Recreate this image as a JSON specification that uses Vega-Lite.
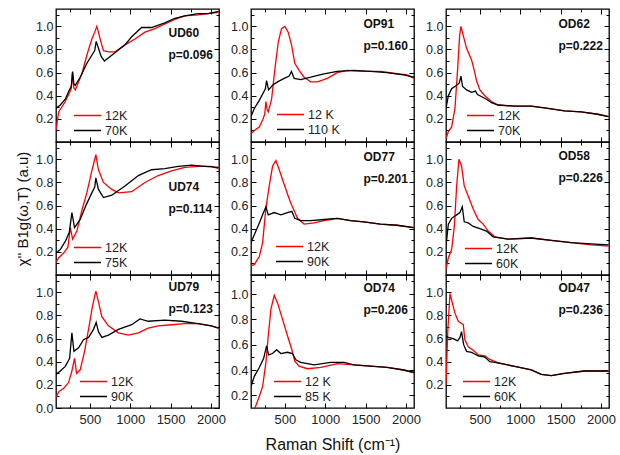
{
"$schema":"https://vega.github.io/schema/vega-lite/v6.json",
"padding":{"left":14,"top":7,"right":5,"bottom":5},
"datasets":{
"ud60":[{"s":"12K","x":80,"y":0.10},{"s":"12K","x":113,"y":0.26},{"s":"12K","x":195,"y":0.35},{"s":"12K","x":250,"y":0.43},{"s":"12K","x":268,"y":0.46},{"s":"12K","x":283,"y":0.60},{"s":"12K","x":300,"y":0.47},{"s":"12K","x":319,"y":0.45},{"s":"12K","x":360,"y":0.52},{"s":"12K","x":401,"y":0.59},{"s":"12K","x":462,"y":0.75},{"s":"12K","x":524,"y":0.89},{"s":"12K","x":560,"y":0.95},{"s":"12K","x":586,"y":1.00},{"s":"12K","x":606,"y":0.95},{"s":"12K","x":627,"y":0.89},{"s":"12K","x":668,"y":0.79},{"s":"12K","x":730,"y":0.78},{"s":"12K","x":812,"y":0.78},{"s":"12K","x":935,"y":0.84},{"s":"12K","x":1059,"y":0.89},{"s":"12K","x":1182,"y":0.95},{"s":"12K","x":1306,"y":0.98},{"s":"12K","x":1429,"y":1.02},{"s":"12K","x":1552,"y":1.06},{"s":"12K","x":1676,"y":1.09},{"s":"12K","x":1840,"y":1.10},{"s":"12K","x":1964,"y":1.11},{"s":"12K","x":2095,"y":1.12},
{"s":"70K","x":80,"y":0.29},{"s":"70K","x":133,"y":0.32},{"s":"70K","x":195,"y":0.37},{"s":"70K","x":245,"y":0.45},{"s":"70K","x":270,"y":0.48},{"s":"70K","x":286,"y":0.61},{"s":"70K","x":302,"y":0.50},{"s":"70K","x":319,"y":0.49},{"s":"70K","x":380,"y":0.56},{"s":"70K","x":462,"y":0.68},{"s":"70K","x":524,"y":0.75},{"s":"70K","x":560,"y":0.79},{"s":"70K","x":578,"y":0.87},{"s":"70K","x":606,"y":0.81},{"s":"70K","x":640,"y":0.74},{"s":"70K","x":680,"y":0.70},{"s":"70K","x":771,"y":0.75},{"s":"70K","x":935,"y":0.84},{"s":"70K","x":1018,"y":0.91},{"s":"70K","x":1141,"y":0.99},{"s":"70K","x":1264,"y":0.99},{"s":"70K","x":1429,"y":1.03},{"s":"70K","x":1552,"y":1.07},{"s":"70K","x":1676,"y":1.09},{"s":"70K","x":1840,"y":1.11},{"s":"70K","x":1964,"y":1.11},{"s":"70K","x":2095,"y":1.13}],
"op91":[{"s":"12 K","x":80,"y":0.07},{"s":"12 K","x":121,"y":0.10},{"s":"12 K","x":183,"y":0.13},{"s":"12 K","x":224,"y":0.19},{"s":"12 K","x":250,"y":0.24},{"s":"12 K","x":265,"y":0.35},{"s":"12 K","x":280,"y":0.28},{"s":"12 K","x":294,"y":0.26},{"s":"12 K","x":335,"y":0.37},{"s":"12 K","x":376,"y":0.63},{"s":"12 K","x":417,"y":0.86},{"s":"12 K","x":458,"y":0.98},{"s":"12 K","x":500,"y":1.00},{"s":"12 K","x":541,"y":0.95},{"s":"12 K","x":582,"y":0.84},{"s":"12 K","x":623,"y":0.68},{"s":"12 K","x":676,"y":0.62},{"s":"12 K","x":738,"y":0.56},{"s":"12 K","x":820,"y":0.52},{"s":"12 K","x":903,"y":0.52},{"s":"12 K","x":1026,"y":0.55},{"s":"12 K","x":1149,"y":0.60},{"s":"12 K","x":1273,"y":0.62},{"s":"12 K","x":1478,"y":0.61},{"s":"12 K","x":1684,"y":0.61},{"s":"12 K","x":1890,"y":0.59},{"s":"12 K","x":2013,"y":0.58},{"s":"12 K","x":2100,"y":0.55},
{"s":"110 K","x":80,"y":0.22},{"s":"110 K","x":121,"y":0.29},{"s":"110 K","x":183,"y":0.36},{"s":"110 K","x":236,"y":0.43},{"s":"110 K","x":258,"y":0.46},{"s":"110 K","x":273,"y":0.53},{"s":"110 K","x":298,"y":0.45},{"s":"110 K","x":347,"y":0.49},{"s":"110 K","x":409,"y":0.52},{"s":"110 K","x":491,"y":0.55},{"s":"110 K","x":553,"y":0.57},{"s":"110 K","x":582,"y":0.61},{"s":"110 K","x":615,"y":0.55},{"s":"110 K","x":697,"y":0.54},{"s":"110 K","x":820,"y":0.56},{"s":"110 K","x":985,"y":0.59},{"s":"110 K","x":1149,"y":0.61},{"s":"110 K","x":1355,"y":0.62},{"s":"110 K","x":1561,"y":0.61},{"s":"110 K","x":1766,"y":0.60},{"s":"110 K","x":1972,"y":0.58},{"s":"110 K","x":2100,"y":0.56}],
"od62":[{"s":"12K","x":80,"y":0.03},{"s":"12K","x":109,"y":0.09},{"s":"12K","x":150,"y":0.13},{"s":"12K","x":191,"y":0.29},{"s":"12K","x":224,"y":0.63},{"s":"12K","x":249,"y":0.92},{"s":"12K","x":265,"y":1.00},{"s":"12K","x":294,"y":0.92},{"s":"12K","x":335,"y":0.81},{"s":"12K","x":397,"y":0.71},{"s":"12K","x":430,"y":0.62},{"s":"12K","x":458,"y":0.53},{"s":"12K","x":500,"y":0.45},{"s":"12K","x":561,"y":0.40},{"s":"12K","x":643,"y":0.35},{"s":"12K","x":726,"y":0.32},{"s":"12K","x":931,"y":0.31},{"s":"12K","x":1137,"y":0.31},{"s":"12K","x":1343,"y":0.29},{"s":"12K","x":1548,"y":0.27},{"s":"12K","x":1754,"y":0.26},{"s":"12K","x":1960,"y":0.24},{"s":"12K","x":2095,"y":0.22},
{"s":"70K","x":80,"y":0.29},{"s":"70K","x":109,"y":0.40},{"s":"70K","x":150,"y":0.46},{"s":"70K","x":212,"y":0.49},{"s":"70K","x":245,"y":0.51},{"s":"70K","x":265,"y":0.57},{"s":"70K","x":286,"y":0.48},{"s":"70K","x":335,"y":0.45},{"s":"70K","x":397,"y":0.43},{"s":"70K","x":446,"y":0.44},{"s":"70K","x":470,"y":0.41},{"s":"70K","x":500,"y":0.40},{"s":"70K","x":582,"y":0.37},{"s":"70K","x":643,"y":0.34},{"s":"70K","x":726,"y":0.32},{"s":"70K","x":931,"y":0.31},{"s":"70K","x":1137,"y":0.31},{"s":"70K","x":1343,"y":0.29},{"s":"70K","x":1548,"y":0.27},{"s":"70K","x":1754,"y":0.26},{"s":"70K","x":1960,"y":0.24},{"s":"70K","x":2095,"y":0.22}],
"ud74":[{"s":"12K","x":80,"y":0.11},{"s":"12K","x":113,"y":0.15},{"s":"12K","x":175,"y":0.19},{"s":"12K","x":228,"y":0.24},{"s":"12K","x":257,"y":0.41},{"s":"12K","x":286,"y":0.31},{"s":"12K","x":339,"y":0.38},{"s":"12K","x":401,"y":0.56},{"s":"12K","x":462,"y":0.71},{"s":"12K","x":524,"y":0.90},{"s":"12K","x":574,"y":1.04},{"s":"12K","x":606,"y":0.91},{"s":"12K","x":668,"y":0.80},{"s":"12K","x":771,"y":0.74},{"s":"12K","x":853,"y":0.71},{"s":"12K","x":1018,"y":0.72},{"s":"12K","x":1182,"y":0.80},{"s":"12K","x":1347,"y":0.86},{"s":"12K","x":1511,"y":0.90},{"s":"12K","x":1676,"y":0.93},{"s":"12K","x":1840,"y":0.94},{"s":"12K","x":2005,"y":0.94},{"s":"12K","x":2095,"y":0.92},
{"s":"75K","x":80,"y":0.19},{"s":"75K","x":133,"y":0.22},{"s":"75K","x":195,"y":0.29},{"s":"75K","x":245,"y":0.37},{"s":"75K","x":277,"y":0.54},{"s":"75K","x":310,"y":0.41},{"s":"75K","x":380,"y":0.48},{"s":"75K","x":450,"y":0.60},{"s":"75K","x":524,"y":0.71},{"s":"75K","x":560,"y":0.76},{"s":"75K","x":574,"y":0.84},{"s":"75K","x":606,"y":0.74},{"s":"75K","x":668,"y":0.67},{"s":"75K","x":771,"y":0.69},{"s":"75K","x":935,"y":0.77},{"s":"75K","x":1100,"y":0.86},{"s":"75K","x":1264,"y":0.91},{"s":"75K","x":1429,"y":0.92},{"s":"75K","x":1594,"y":0.94},{"s":"75K","x":1758,"y":0.95},{"s":"75K","x":1923,"y":0.94},{"s":"75K","x":2095,"y":0.93}],
"od77":[{"s":"12K","x":80,"y":0.08},{"s":"12K","x":121,"y":0.09},{"s":"12K","x":183,"y":0.16},{"s":"12K","x":224,"y":0.28},{"s":"12K","x":265,"y":0.58},{"s":"12K","x":306,"y":0.77},{"s":"12K","x":347,"y":0.94},{"s":"12K","x":388,"y":0.99},{"s":"12K","x":430,"y":0.91},{"s":"12K","x":483,"y":0.80},{"s":"12K","x":532,"y":0.70},{"s":"12K","x":574,"y":0.62},{"s":"12K","x":606,"y":0.57},{"s":"12K","x":656,"y":0.49},{"s":"12K","x":738,"y":0.44},{"s":"12K","x":861,"y":0.45},{"s":"12K","x":985,"y":0.47},{"s":"12K","x":1149,"y":0.49},{"s":"12K","x":1314,"y":0.47},{"s":"12K","x":1478,"y":0.46},{"s":"12K","x":1684,"y":0.44},{"s":"12K","x":1890,"y":0.43},{"s":"12K","x":2095,"y":0.41},
{"s":"90K","x":80,"y":0.28},{"s":"90K","x":129,"y":0.36},{"s":"90K","x":183,"y":0.45},{"s":"90K","x":224,"y":0.52},{"s":"90K","x":265,"y":0.59},{"s":"90K","x":294,"y":0.52},{"s":"90K","x":368,"y":0.54},{"s":"90K","x":450,"y":0.52},{"s":"90K","x":532,"y":0.54},{"s":"90K","x":586,"y":0.55},{"s":"90K","x":623,"y":0.49},{"s":"90K","x":697,"y":0.47},{"s":"90K","x":820,"y":0.47},{"s":"90K","x":985,"y":0.48},{"s":"90K","x":1149,"y":0.49},{"s":"90K","x":1314,"y":0.47},{"s":"90K","x":1478,"y":0.46},{"s":"90K","x":1684,"y":0.44},{"s":"90K","x":1890,"y":0.43},{"s":"90K","x":2095,"y":0.41}],
"od58":[{"s":"12K","x":80,"y":0.05},{"s":"12K","x":109,"y":0.15},{"s":"12K","x":150,"y":0.22},{"s":"12K","x":183,"y":0.42},{"s":"12K","x":212,"y":0.77},{"s":"12K","x":240,"y":1.00},{"s":"12K","x":273,"y":0.94},{"s":"12K","x":306,"y":0.77},{"s":"12K","x":356,"y":0.68},{"s":"12K","x":417,"y":0.57},{"s":"12K","x":479,"y":0.48},{"s":"12K","x":541,"y":0.44},{"s":"12K","x":602,"y":0.38},{"s":"12K","x":685,"y":0.33},{"s":"12K","x":849,"y":0.31},{"s":"12K","x":1137,"y":0.32},{"s":"12K","x":1384,"y":0.30},{"s":"12K","x":1631,"y":0.28},{"s":"12K","x":1877,"y":0.26},{"s":"12K","x":2095,"y":0.25},
{"s":"60K","x":80,"y":0.25},{"s":"60K","x":109,"y":0.44},{"s":"60K","x":150,"y":0.49},{"s":"60K","x":212,"y":0.52},{"s":"60K","x":253,"y":0.54},{"s":"60K","x":282,"y":0.59},{"s":"60K","x":306,"y":0.46},{"s":"60K","x":356,"y":0.45},{"s":"60K","x":417,"y":0.42},{"s":"60K","x":500,"y":0.40},{"s":"60K","x":582,"y":0.38},{"s":"60K","x":664,"y":0.33},{"s":"60K","x":849,"y":0.31},{"s":"60K","x":1137,"y":0.32},{"s":"60K","x":1384,"y":0.30},{"s":"60K","x":1631,"y":0.28},{"s":"60K","x":1877,"y":0.27},{"s":"60K","x":2095,"y":0.26}],
"ud79":[{"s":"12K","x":80,"y":0.09},{"s":"12K","x":113,"y":0.14},{"s":"12K","x":175,"y":0.17},{"s":"12K","x":236,"y":0.22},{"s":"12K","x":277,"y":0.32},{"s":"12K","x":310,"y":0.43},{"s":"12K","x":335,"y":0.30},{"s":"12K","x":380,"y":0.33},{"s":"12K","x":434,"y":0.49},{"s":"12K","x":483,"y":0.68},{"s":"12K","x":532,"y":0.88},{"s":"12K","x":574,"y":1.01},{"s":"12K","x":606,"y":0.92},{"s":"12K","x":648,"y":0.79},{"s":"12K","x":730,"y":0.71},{"s":"12K","x":853,"y":0.65},{"s":"12K","x":977,"y":0.63},{"s":"12K","x":1100,"y":0.65},{"s":"12K","x":1223,"y":0.69},{"s":"12K","x":1347,"y":0.71},{"s":"12K","x":1511,"y":0.72},{"s":"12K","x":1676,"y":0.73},{"s":"12K","x":1840,"y":0.73},{"s":"12K","x":2005,"y":0.71},{"s":"12K","x":2095,"y":0.69},
{"s":"90K","x":80,"y":0.29},{"s":"90K","x":133,"y":0.32},{"s":"90K","x":195,"y":0.36},{"s":"90K","x":249,"y":0.43},{"s":"90K","x":277,"y":0.65},{"s":"90K","x":302,"y":0.49},{"s":"90K","x":360,"y":0.52},{"s":"90K","x":421,"y":0.59},{"s":"90K","x":483,"y":0.61},{"s":"90K","x":545,"y":0.68},{"s":"90K","x":578,"y":0.74},{"s":"90K","x":606,"y":0.66},{"s":"90K","x":648,"y":0.61},{"s":"90K","x":730,"y":0.63},{"s":"90K","x":853,"y":0.68},{"s":"90K","x":1018,"y":0.72},{"s":"90K","x":1121,"y":0.77},{"s":"90K","x":1223,"y":0.75},{"s":"90K","x":1429,"y":0.76},{"s":"90K","x":1635,"y":0.75},{"s":"90K","x":1840,"y":0.73},{"s":"90K","x":2005,"y":0.71},{"s":"90K","x":2095,"y":0.69}],
"od74":[{"s":"12 K","x":80,"y":0.04},{"s":"12 K","x":129,"y":0.10},{"s":"12 K","x":183,"y":0.19},{"s":"12 K","x":224,"y":0.27},{"s":"12 K","x":265,"y":0.46},{"s":"12 K","x":294,"y":0.67},{"s":"12 K","x":327,"y":0.88},{"s":"12 K","x":368,"y":0.99},{"s":"12 K","x":409,"y":0.93},{"s":"12 K","x":471,"y":0.80},{"s":"12 K","x":532,"y":0.67},{"s":"12 K","x":582,"y":0.57},{"s":"12 K","x":623,"y":0.47},{"s":"12 K","x":676,"y":0.43},{"s":"12 K","x":779,"y":0.41},{"s":"12 K","x":944,"y":0.42},{"s":"12 K","x":1149,"y":0.45},{"s":"12 K","x":1355,"y":0.44},{"s":"12 K","x":1561,"y":0.43},{"s":"12 K","x":1766,"y":0.42},{"s":"12 K","x":1972,"y":0.40},{"s":"12 K","x":2100,"y":0.38},
{"s":"85 K","x":80,"y":0.27},{"s":"85 K","x":121,"y":0.35},{"s":"85 K","x":183,"y":0.42},{"s":"85 K","x":236,"y":0.49},{"s":"85 K","x":273,"y":0.59},{"s":"85 K","x":298,"y":0.52},{"s":"85 K","x":347,"y":0.53},{"s":"85 K","x":397,"y":0.56},{"s":"85 K","x":450,"y":0.53},{"s":"85 K","x":532,"y":0.54},{"s":"85 K","x":594,"y":0.53},{"s":"85 K","x":635,"y":0.48},{"s":"85 K","x":697,"y":0.46},{"s":"85 K","x":861,"y":0.44},{"s":"85 K","x":1067,"y":0.46},{"s":"85 K","x":1232,"y":0.46},{"s":"85 K","x":1355,"y":0.44},{"s":"85 K","x":1561,"y":0.43},{"s":"85 K","x":1766,"y":0.42},{"s":"85 K","x":1972,"y":0.40},{"s":"85 K","x":2100,"y":0.38}],
"od47":[{"s":"12K","x":80,"y":0.20},{"s":"12K","x":101,"y":0.65},{"s":"12K","x":129,"y":0.99},{"s":"12K","x":158,"y":0.91},{"s":"12K","x":191,"y":0.82},{"s":"12K","x":232,"y":0.75},{"s":"12K","x":273,"y":0.73},{"s":"12K","x":294,"y":0.72},{"s":"12K","x":314,"y":0.59},{"s":"12K","x":356,"y":0.53},{"s":"12K","x":417,"y":0.50},{"s":"12K","x":479,"y":0.46},{"s":"12K","x":561,"y":0.45},{"s":"12K","x":623,"y":0.42},{"s":"12K","x":726,"y":0.39},{"s":"12K","x":931,"y":0.36},{"s":"12K","x":1137,"y":0.33},{"s":"12K","x":1260,"y":0.29},{"s":"12K","x":1384,"y":0.28},{"s":"12K","x":1548,"y":0.30},{"s":"12K","x":1795,"y":0.32},{"s":"12K","x":2095,"y":0.32},
{"s":"60K","x":80,"y":0.62},{"s":"60K","x":109,"y":0.61},{"s":"60K","x":170,"y":0.60},{"s":"60K","x":224,"y":0.58},{"s":"60K","x":253,"y":0.61},{"s":"60K","x":273,"y":0.66},{"s":"60K","x":298,"y":0.55},{"s":"60K","x":335,"y":0.49},{"s":"60K","x":397,"y":0.48},{"s":"60K","x":479,"y":0.45},{"s":"60K","x":561,"y":0.44},{"s":"60K","x":623,"y":0.40},{"s":"60K","x":726,"y":0.39},{"s":"60K","x":931,"y":0.36},{"s":"60K","x":1137,"y":0.33},{"s":"60K","x":1260,"y":0.29},{"s":"60K","x":1384,"y":0.28},{"s":"60K","x":1548,"y":0.30},{"s":"60K","x":1795,"y":0.32},{"s":"60K","x":2095,"y":0.32}]
},
"concat":[
{"width":163,"height":133,"title":{"text":["UD60","p=0.096"],"offset":-53},"data":{"name":"ud60"},
 "layer":[
  {"transform":[{"filter":"test(/^12/, datum.s)"}],"mark":{"type":"line","clip":true,"strokeWidth":1.3},
   "encoding":{"x":{"field":"x","type":"quantitative","scale":{"domain":[80,2100],"nice":false,"zero":false},"axis":{"orient":"bottom","values":[250,500,750,1000,1250,1500,1750,2000],"labels":false,"title":null,"tickSize":{"condition":{"test":"datum.value % 500 === 0","value":-5},"value":-3}}},
    "y":{"field":"y","type":"quantitative","scale":{"domain":[0,1.15],"nice":false,"zero":false},"axis":{"orient":"left","values":[0.1,0.2,0.3,0.4,0.5,0.6,0.7,0.8,0.9,1.0,1.1],"format":".1f","labelExpr":"round(datum.value*10)%2===0 ? datum.label : ''","title":null,"labelPadding":8,"tickSize":{"condition":{"test":"round(datum.value*10)%2===0","value":-5},"value":-3}}},
    "color":{"field":"s","type":"nominal","scale":{"domain":["12K","70K"],"range":["#ff0000","#000000"]},"legend":{"title":null,"orient":"none","legendX":17,"legendY":99}}}},
  {"transform":[{"filter":"!test(/^12/, datum.s)"}],"mark":{"type":"line","clip":true,"strokeWidth":1.3},
   "encoding":{"x":{"field":"x","type":"quantitative","axis":{"orient":"top","values":[250,500,750,1000,1250,1500,1750,2000],"labels":false,"title":null,"tickSize":{"condition":{"test":"datum.value % 500 === 0","value":-5},"value":-3}}},
    "y":{"field":"y","type":"quantitative","axis":{"orient":"right","values":[0.1,0.2,0.3,0.4,0.5,0.6,0.7,0.8,0.9,1.0,1.1],"labels":false,"title":null,"tickSize":{"condition":{"test":"round(datum.value*10)%2===0","value":-5},"value":-3}}},
    "color":{"field":"s","type":"nominal","scale":{"domain":["12K","70K"],"range":["#ff0000","#000000"]},"legend":{"title":null,"orient":"none","legendX":17,"legendY":99}}}}
 ],"resolve":{"axis":{"x":"independent","y":"independent"}}},
{"width":163,"height":133,"title":{"text":["OP91","p=0.160"],"offset":-44},"data":{"name":"op91"},
 "layer":[
  {"transform":[{"filter":"test(/^12/, datum.s)"}],"mark":{"type":"line","clip":true,"strokeWidth":1.3},
   "encoding":{"x":{"field":"x","type":"quantitative","scale":{"domain":[80,2100],"nice":false,"zero":false},"axis":{"orient":"bottom","values":[250,500,750,1000,1250,1500,1750,2000],"labels":false,"title":null,"tickSize":{"condition":{"test":"datum.value % 500 === 0","value":-5},"value":-3}}},
    "y":{"field":"y","type":"quantitative","scale":{"domain":[0,1.15],"nice":false,"zero":false},"axis":{"orient":"left","values":[0.1,0.2,0.3,0.4,0.5,0.6,0.7,0.8,0.9,1.0,1.1],"format":".1f","labelExpr":"round(datum.value*10)%2===0 ? datum.label : ''","title":null,"labelPadding":8,"tickSize":{"condition":{"test":"round(datum.value*10)%2===0","value":-5},"value":-3}}},
    "color":{"field":"s","type":"nominal","scale":{"domain":["12 K","110 K"],"range":["#ff0000","#000000"]},"legend":{"title":null,"orient":"none","legendX":25,"legendY":98}}}},
  {"transform":[{"filter":"!test(/^12/, datum.s)"}],"mark":{"type":"line","clip":true,"strokeWidth":1.3},
   "encoding":{"x":{"field":"x","type":"quantitative","axis":{"orient":"top","values":[250,500,750,1000,1250,1500,1750,2000],"labels":false,"title":null,"tickSize":{"condition":{"test":"datum.value % 500 === 0","value":-5},"value":-3}}},
    "y":{"field":"y","type":"quantitative","axis":{"orient":"right","values":[0.1,0.2,0.3,0.4,0.5,0.6,0.7,0.8,0.9,1.0,1.1],"labels":false,"title":null,"tickSize":{"condition":{"test":"round(datum.value*10)%2===0","value":-5},"value":-3}}},
    "color":{"field":"s","type":"nominal","scale":{"domain":["12 K","110 K"],"range":["#ff0000","#000000"]},"legend":{"title":null,"orient":"none","legendX":25,"legendY":98}}}}
 ],"resolve":{"axis":{"x":"independent","y":"independent"}}},
{"width":163,"height":133,"title":{"text":["OD62","p=0.222"],"offset":-44},"data":{"name":"od62"},
 "layer":[
  {"transform":[{"filter":"test(/^12/, datum.s)"}],"mark":{"type":"line","clip":true,"strokeWidth":1.3},
   "encoding":{"x":{"field":"x","type":"quantitative","scale":{"domain":[80,2100],"nice":false,"zero":false},"axis":{"orient":"bottom","values":[250,500,750,1000,1250,1500,1750,2000],"labels":false,"title":null,"tickSize":{"condition":{"test":"datum.value % 500 === 0","value":-5},"value":-3}}},
    "y":{"field":"y","type":"quantitative","scale":{"domain":[0,1.15],"nice":false,"zero":false},"axis":{"orient":"left","values":[0.1,0.2,0.3,0.4,0.5,0.6,0.7,0.8,0.9,1.0,1.1],"format":".1f","labelExpr":"round(datum.value*10)%2===0 ? datum.label : ''","title":null,"labelPadding":8,"tickSize":{"condition":{"test":"round(datum.value*10)%2===0","value":-5},"value":-3}}},
    "color":{"field":"s","type":"nominal","scale":{"domain":["12K","70K"],"range":["#ff0000","#000000"]},"legend":{"title":null,"orient":"none","legendX":20,"legendY":99}}}},
  {"transform":[{"filter":"!test(/^12/, datum.s)"}],"mark":{"type":"line","clip":true,"strokeWidth":1.3},
   "encoding":{"x":{"field":"x","type":"quantitative","axis":{"orient":"top","values":[250,500,750,1000,1250,1500,1750,2000],"labels":false,"title":null,"tickSize":{"condition":{"test":"datum.value % 500 === 0","value":-5},"value":-3}}},
    "y":{"field":"y","type":"quantitative","axis":{"orient":"right","values":[0.1,0.2,0.3,0.4,0.5,0.6,0.7,0.8,0.9,1.0,1.1],"labels":false,"title":null,"tickSize":{"condition":{"test":"round(datum.value*10)%2===0","value":-5},"value":-3}}},
    "color":{"field":"s","type":"nominal","scale":{"domain":["12K","70K"],"range":["#ff0000","#000000"]},"legend":{"title":null,"orient":"none","legendX":20,"legendY":99}}}}
 ],"resolve":{"axis":{"x":"independent","y":"independent"}}},
{"width":163,"height":133,"title":{"text":["UD74","p=0.114"],"offset":-74},"data":{"name":"ud74"},
 "layer":[
  {"transform":[{"filter":"test(/^12/, datum.s)"}],"mark":{"type":"line","clip":true,"strokeWidth":1.3},
   "encoding":{"x":{"field":"x","type":"quantitative","scale":{"domain":[80,2100],"nice":false,"zero":false},"axis":{"orient":"bottom","values":[250,500,750,1000,1250,1500,1750,2000],"labels":false,"title":null,"tickSize":{"condition":{"test":"datum.value % 500 === 0","value":-5},"value":-3}}},
    "y":{"field":"y","type":"quantitative","scale":{"domain":[0,1.15],"nice":false,"zero":false},"axis":{"orient":"left","values":[0.1,0.2,0.3,0.4,0.5,0.6,0.7,0.8,0.9,1.0,1.1],"format":".1f","labelExpr":"round(datum.value*10)%2===0 ? datum.label : ''","title":"χ'' B1g(ω,T) (a.u)","titleFontSize":15,"titlePadding":5,"labelPadding":8,"tickSize":{"condition":{"test":"round(datum.value*10)%2===0","value":-5},"value":-3}}},
    "color":{"field":"s","type":"nominal","scale":{"domain":["12K","75K"],"range":["#ff0000","#000000"]},"legend":{"title":null,"orient":"none","legendX":17,"legendY":98}}}},
  {"transform":[{"filter":"!test(/^12/, datum.s)"}],"mark":{"type":"line","clip":true,"strokeWidth":1.3},
   "encoding":{"x":{"field":"x","type":"quantitative","axis":{"orient":"top","values":[250,500,750,1000,1250,1500,1750,2000],"labels":false,"title":null,"tickSize":{"condition":{"test":"datum.value % 500 === 0","value":-5},"value":-3}}},
    "y":{"field":"y","type":"quantitative","axis":{"orient":"right","values":[0.1,0.2,0.3,0.4,0.5,0.6,0.7,0.8,0.9,1.0,1.1],"labels":false,"title":null,"tickSize":{"condition":{"test":"round(datum.value*10)%2===0","value":-5},"value":-3}}},
    "color":{"field":"s","type":"nominal","scale":{"domain":["12K","75K"],"range":["#ff0000","#000000"]},"legend":{"title":null,"orient":"none","legendX":17,"legendY":98}}}}
 ],"resolve":{"axis":{"x":"independent","y":"independent"}}},
{"width":163,"height":133,"title":{"text":["OD77","p=0.201"],"offset":-44},"data":{"name":"od77"},
 "layer":[
  {"transform":[{"filter":"test(/^12/, datum.s)"}],"mark":{"type":"line","clip":true,"strokeWidth":1.3},
   "encoding":{"x":{"field":"x","type":"quantitative","scale":{"domain":[80,2100],"nice":false,"zero":false},"axis":{"orient":"bottom","values":[250,500,750,1000,1250,1500,1750,2000],"labels":false,"title":null,"tickSize":{"condition":{"test":"datum.value % 500 === 0","value":-5},"value":-3}}},
    "y":{"field":"y","type":"quantitative","scale":{"domain":[0,1.15],"nice":false,"zero":false},"axis":{"orient":"left","values":[0.1,0.2,0.3,0.4,0.5,0.6,0.7,0.8,0.9,1.0,1.1],"format":".1f","labelExpr":"round(datum.value*10)%2===0 ? datum.label : ''","title":null,"labelPadding":8,"tickSize":{"condition":{"test":"round(datum.value*10)%2===0","value":-5},"value":-3}}},
    "color":{"field":"s","type":"nominal","scale":{"domain":["12K","90K"],"range":["#ff0000","#000000"]},"legend":{"title":null,"orient":"none","legendX":24,"legendY":97}}}},
  {"transform":[{"filter":"!test(/^12/, datum.s)"}],"mark":{"type":"line","clip":true,"strokeWidth":1.3},
   "encoding":{"x":{"field":"x","type":"quantitative","axis":{"orient":"top","values":[250,500,750,1000,1250,1500,1750,2000],"labels":false,"title":null,"tickSize":{"condition":{"test":"datum.value % 500 === 0","value":-5},"value":-3}}},
    "y":{"field":"y","type":"quantitative","axis":{"orient":"right","values":[0.1,0.2,0.3,0.4,0.5,0.6,0.7,0.8,0.9,1.0,1.1],"labels":false,"title":null,"tickSize":{"condition":{"test":"round(datum.value*10)%2===0","value":-5},"value":-3}}},
    "color":{"field":"s","type":"nominal","scale":{"domain":["12K","90K"],"range":["#ff0000","#000000"]},"legend":{"title":null,"orient":"none","legendX":24,"legendY":97}}}}
 ],"resolve":{"axis":{"x":"independent","y":"independent"}}},
{"width":163,"height":133,"title":{"text":["OD58","p=0.226"],"offset":-43},"data":{"name":"od58"},
 "layer":[
  {"transform":[{"filter":"test(/^12/, datum.s)"}],"mark":{"type":"line","clip":true,"strokeWidth":1.3},
   "encoding":{"x":{"field":"x","type":"quantitative","scale":{"domain":[80,2100],"nice":false,"zero":false},"axis":{"orient":"bottom","values":[250,500,750,1000,1250,1500,1750,2000],"labels":false,"title":null,"tickSize":{"condition":{"test":"datum.value % 500 === 0","value":-5},"value":-3}}},
    "y":{"field":"y","type":"quantitative","scale":{"domain":[0,1.15],"nice":false,"zero":false},"axis":{"orient":"left","values":[0.1,0.2,0.3,0.4,0.5,0.6,0.7,0.8,0.9,1.0,1.1],"format":".1f","labelExpr":"round(datum.value*10)%2===0 ? datum.label : ''","title":null,"labelPadding":8,"tickSize":{"condition":{"test":"round(datum.value*10)%2===0","value":-5},"value":-3}}},
    "color":{"field":"s","type":"nominal","scale":{"domain":["12K","60K"],"range":["#ff0000","#000000"]},"legend":{"title":null,"orient":"none","legendX":18,"legendY":99}}}},
  {"transform":[{"filter":"!test(/^12/, datum.s)"}],"mark":{"type":"line","clip":true,"strokeWidth":1.3},
   "encoding":{"x":{"field":"x","type":"quantitative","axis":{"orient":"top","values":[250,500,750,1000,1250,1500,1750,2000],"labels":false,"title":null,"tickSize":{"condition":{"test":"datum.value % 500 === 0","value":-5},"value":-3}}},
    "y":{"field":"y","type":"quantitative","axis":{"orient":"right","values":[0.1,0.2,0.3,0.4,0.5,0.6,0.7,0.8,0.9,1.0,1.1],"labels":false,"title":null,"tickSize":{"condition":{"test":"round(datum.value*10)%2===0","value":-5},"value":-3}}},
    "color":{"field":"s","type":"nominal","scale":{"domain":["12K","60K"],"range":["#ff0000","#000000"]},"legend":{"title":null,"orient":"none","legendX":18,"legendY":99}}}}
 ],"resolve":{"axis":{"x":"independent","y":"independent"}}},
{"width":163,"height":133,"title":{"text":["UD79","p=0.123"],"offset":-41},"data":{"name":"ud79"},
 "layer":[
  {"transform":[{"filter":"test(/^12/, datum.s)"}],"mark":{"type":"line","clip":true,"strokeWidth":1.3},
   "encoding":{"x":{"field":"x","type":"quantitative","scale":{"domain":[80,2100],"nice":false,"zero":false},"axis":{"orient":"bottom","values":[250,500,750,1000,1250,1500,1750,2000],"format":"d","labelExpr":"datum.value % 500 === 0 ? datum.label : ''","labelPadding":10,"labelFontSize":13,"title":null,"tickSize":{"condition":{"test":"datum.value % 500 === 0","value":-5},"value":-3}}},
    "y":{"field":"y","type":"quantitative","scale":{"domain":[0,1.15],"nice":false,"zero":false},"axis":{"orient":"left","values":[0,0.1,0.2,0.3,0.4,0.5,0.6,0.7,0.8,0.9,1.0,1.1],"format":".1f","labelExpr":"round(datum.value*10)%2===0 ? datum.label : ''","title":null,"labelPadding":8,"tickSize":{"condition":{"test":"round(datum.value*10)%2===0","value":-5},"value":-3}}},
    "color":{"field":"s","type":"nominal","scale":{"domain":["12K","90K"],"range":["#ff0000","#000000"]},"legend":{"title":null,"orient":"none","legendX":23,"legendY":99}}}},
  {"transform":[{"filter":"!test(/^12/, datum.s)"}],"mark":{"type":"line","clip":true,"strokeWidth":1.3},
   "encoding":{"x":{"field":"x","type":"quantitative","axis":{"orient":"top","values":[250,500,750,1000,1250,1500,1750,2000],"labels":false,"title":null,"tickSize":{"condition":{"test":"datum.value % 500 === 0","value":-5},"value":-3}}},
    "y":{"field":"y","type":"quantitative","axis":{"orient":"right","values":[0,0.1,0.2,0.3,0.4,0.5,0.6,0.7,0.8,0.9,1.0,1.1],"labels":false,"title":null,"tickSize":{"condition":{"test":"round(datum.value*10)%2===0","value":-5},"value":-3}}},
    "color":{"field":"s","type":"nominal","scale":{"domain":["12K","90K"],"range":["#ff0000","#000000"]},"legend":{"title":null,"orient":"none","legendX":23,"legendY":99}}}}
 ],"resolve":{"axis":{"x":"independent","y":"independent"}}},
{"width":163,"height":133,"title":{"text":["OD74","p=0.206"],"offset":-42},"data":{"name":"od74"},
 "layer":[
  {"transform":[{"filter":"test(/^12/, datum.s)"}],"mark":{"type":"line","clip":true,"strokeWidth":1.3},
   "encoding":{"x":{"field":"x","type":"quantitative","scale":{"domain":[80,2100],"nice":false,"zero":false},"axis":{"orient":"bottom","values":[250,500,750,1000,1250,1500,1750,2000],"format":"d","labelExpr":"datum.value % 500 === 0 ? datum.label : ''","labelPadding":10,"labelFontSize":13,"title":"Raman Shift (cm⁻¹)","titleFontSize":16,"titlePadding":8,"tickSize":{"condition":{"test":"datum.value % 500 === 0","value":-5},"value":-3}}},
    "y":{"field":"y","type":"quantitative","scale":{"domain":[0.1,1.15],"nice":false,"zero":false},"axis":{"orient":"left","values":[0.2,0.3,0.4,0.5,0.6,0.7,0.8,0.9,1.0,1.1],"format":".1f","labelExpr":"round(datum.value*10)%2===0 ? datum.label : ''","title":null,"labelPadding":8,"tickSize":{"condition":{"test":"round(datum.value*10)%2===0","value":-5},"value":-3}}},
    "color":{"field":"s","type":"nominal","scale":{"domain":["12 K","85 K"],"range":["#ff0000","#000000"]},"legend":{"title":null,"orient":"none","legendX":22,"legendY":99}}}},
  {"transform":[{"filter":"!test(/^12/, datum.s)"}],"mark":{"type":"line","clip":true,"strokeWidth":1.3},
   "encoding":{"x":{"field":"x","type":"quantitative","axis":{"orient":"top","values":[250,500,750,1000,1250,1500,1750,2000],"labels":false,"title":null,"tickSize":{"condition":{"test":"datum.value % 500 === 0","value":-5},"value":-3}}},
    "y":{"field":"y","type":"quantitative","axis":{"orient":"right","values":[0.2,0.3,0.4,0.5,0.6,0.7,0.8,0.9,1.0,1.1],"labels":false,"title":null,"tickSize":{"condition":{"test":"round(datum.value*10)%2===0","value":-5},"value":-3}}},
    "color":{"field":"s","type":"nominal","scale":{"domain":["12 K","85 K"],"range":["#ff0000","#000000"]},"legend":{"title":null,"orient":"none","legendX":22,"legendY":99}}}}
 ],"resolve":{"axis":{"x":"independent","y":"independent"}}},
{"width":163,"height":133,"title":{"text":["OD47","p=0.236"],"offset":-42},"data":{"name":"od47"},
 "layer":[
  {"transform":[{"filter":"test(/^12/, datum.s)"}],"mark":{"type":"line","clip":true,"strokeWidth":1.3},
   "encoding":{"x":{"field":"x","type":"quantitative","scale":{"domain":[80,2100],"nice":false,"zero":false},"axis":{"orient":"bottom","values":[250,500,750,1000,1250,1500,1750,2000],"format":"d","labelExpr":"datum.value % 500 === 0 ? datum.label : ''","labelPadding":10,"labelFontSize":13,"title":null,"tickSize":{"condition":{"test":"datum.value % 500 === 0","value":-5},"value":-3}}},
    "y":{"field":"y","type":"quantitative","scale":{"domain":[0,1.15],"nice":false,"zero":false},"axis":{"orient":"left","values":[0.1,0.2,0.3,0.4,0.5,0.6,0.7,0.8,0.9,1.0,1.1],"format":".1f","labelExpr":"round(datum.value*10)%2===0 ? datum.label : ''","title":null,"labelPadding":8,"tickSize":{"condition":{"test":"round(datum.value*10)%2===0","value":-5},"value":-3}}},
    "color":{"field":"s","type":"nominal","scale":{"domain":["12K","60K"],"range":["#ff0000","#000000"]},"legend":{"title":null,"orient":"none","legendX":16,"legendY":99}}}},
  {"transform":[{"filter":"!test(/^12/, datum.s)"}],"mark":{"type":"line","clip":true,"strokeWidth":1.3},
   "encoding":{"x":{"field":"x","type":"quantitative","axis":{"orient":"top","values":[250,500,750,1000,1250,1500,1750,2000],"labels":false,"title":null,"tickSize":{"condition":{"test":"datum.value % 500 === 0","value":-5},"value":-3}}},
    "y":{"field":"y","type":"quantitative","axis":{"orient":"right","values":[0.1,0.2,0.3,0.4,0.5,0.6,0.7,0.8,0.9,1.0,1.1],"labels":false,"title":null,"tickSize":{"condition":{"test":"round(datum.value*10)%2===0","value":-5},"value":-3}}},
    "color":{"field":"s","type":"nominal","scale":{"domain":["12K","60K"],"range":["#ff0000","#000000"]},"legend":{"title":null,"orient":"none","legendX":16,"legendY":99}}}}
 ],"resolve":{"axis":{"x":"independent","y":"independent"}}}
],
"columns":3,
"spacing":{"row":0,"column":32},
"bounds":"flush",
"resolve":{"scale":{"color":"independent","x":"independent","y":"independent"},"legend":{"color":"independent"}},
"config":{
 "font":"Liberation Sans",
 "view":{"stroke":"#000","strokeWidth":1.3},
 "axis":{"domain":false,"grid":false,"tickColor":"#000","tickWidth":1,"labelFont":"Liberation Sans","labelFontSize":12.5,"labelColor":"#222","labelFlush":false,"labelOverlap":false,"titleFont":"Liberation Sans","titleFontWeight":"normal","titleColor":"#111"},
 "legend":{"symbolType":"stroke","symbolSize":729,"symbolStrokeWidth":1.5,"clipHeight":15,"rowPadding":0,"labelFont":"Liberation Sans","labelFontSize":12.5,"labelColor":"#222","labelOffset":3,"padding":0},
 "title":{"anchor":"start","frame":"group","dx":112.5,"fontSize":12,"fontWeight":"bold","lineHeight":22,"color":"#111","font":"Liberation Sans"}
}
}
